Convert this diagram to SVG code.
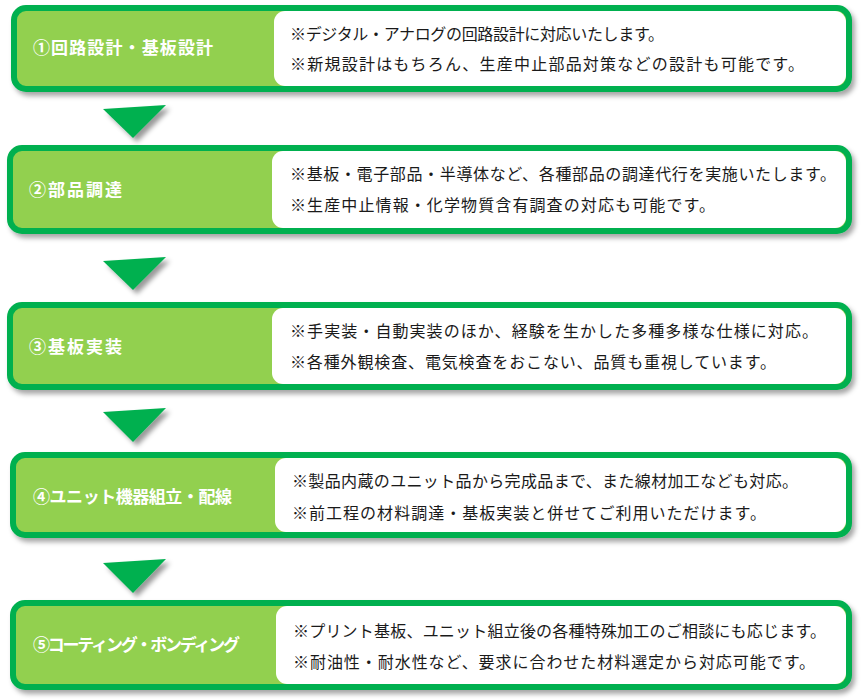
<svg xmlns="http://www.w3.org/2000/svg" width="861" height="700" viewBox="0 0 861 700">
<defs>
<filter id="sh" x="-5%" y="-10%" width="110%" height="130%">
<feDropShadow dx="3" dy="4" stdDeviation="2.5" flood-color="#000" flood-opacity="0.35"/>
</filter>
<filter id="ash" x="-20%" y="-20%" width="150%" height="160%">
<feDropShadow dx="4" dy="4" stdDeviation="2.5" flood-color="#000" flood-opacity="0.4"/>
</filter>
<style>
.outer{fill:#92D050;stroke:#00B050;stroke-width:6;filter:url(#sh)}
.inner{fill:#FFFFFF}
.lbl{font-family:"Noto Sans CJK JP","Noto Sans",sans-serif;font-weight:bold;font-size:17px;fill:#FFFFFF}
.txt{font-family:"Noto Sans CJK JP","Noto Sans",sans-serif;font-size:16px;fill:#1a1a1a}
.arr{fill:#00B050;filter:url(#ash)}
</style>
</defs>
<rect width="861" height="700" fill="#FFFFFF"/>
<g id="connectors">
<polygon class="arr" points="103,109 166,105 133,138"/>
<polygon class="arr" points="103,261 166,257 133,290"/>
<polygon class="arr" points="103,412 166,408 133,442"/>
<polygon class="arr" points="103,563 166,559 133,593"/>
</g>
<g id="node1">
<rect class="outer" x="14" y="8" width="835" height="81" rx="12"/>
<rect class="inner" x="274" y="11" width="572" height="75" rx="11"/>
<text class="lbl" x="33" y="54" textLength="180">①回路設計・基板設計</text>
<text class="txt" x="290" y="40" textLength="374">※デジタル・アナログの回路設計に対応いたします。</text>
<text class="txt" x="290" y="70" textLength="514">※新規設計はもちろん、生産中止部品対策などの設計も可能です。</text>
</g>
<g id="node2">
<rect class="outer" x="10" y="148" width="839" height="83" rx="12"/>
<rect class="inner" x="272" y="151" width="574" height="77" rx="11"/>
<text class="lbl" x="29" y="196" textLength="93">②部品調達</text>
<text class="txt" x="290" y="180" textLength="546">※基板・電子部品・半導体など、各種部品の調達代行を実施いたします。</text>
<text class="txt" x="290" y="211" textLength="425">※生産中止情報・化学物質含有調査の対応も可能です。</text>
</g>
<g id="node3">
<rect class="outer" x="10" y="305" width="839" height="82" rx="12"/>
<rect class="inner" x="272" y="308" width="574" height="76" rx="11"/>
<text class="lbl" x="29" y="353" textLength="93">③基板実装</text>
<text class="txt" x="290" y="337" textLength="528">※手実装・自動実装のほか、経験を生かした多種多様な仕様に対応。</text>
<text class="txt" x="290" y="368" textLength="486">※各種外観検査、電気検査をおこない、品質も重視しています。</text>
</g>
<g id="node4">
<rect class="outer" x="13" y="455" width="836" height="80" rx="12"/>
<rect class="inner" x="275" y="458" width="571" height="74" rx="11"/>
<text class="lbl" x="33" y="503" textLength="199">④ユニット機器組立・配線</text>
<text class="txt" x="292" y="487" textLength="506">※製品内蔵のユニット品から完成品まで、また線材加工なども対応。</text>
<text class="txt" x="292" y="519" textLength="474">※前工程の材料調達・基板実装と併せてご利用いただけます。</text>
</g>
<g id="node5">
<rect class="outer" x="13" y="603" width="836" height="84" rx="12"/>
<rect class="inner" x="276" y="606" width="570" height="78" rx="11"/>
<text class="lbl" x="33" y="651" textLength="207">⑤コーティング・ボンディング</text>
<text class="txt" x="293" y="637" textLength="533">※プリント基板、ユニット組立後の各種特殊加工のご相談にも応じます。</text>
<text class="txt" x="293" y="668" textLength="522">※耐油性・耐水性など、要求に合わせた材料選定から対応可能です。</text>
</g>
</svg>
